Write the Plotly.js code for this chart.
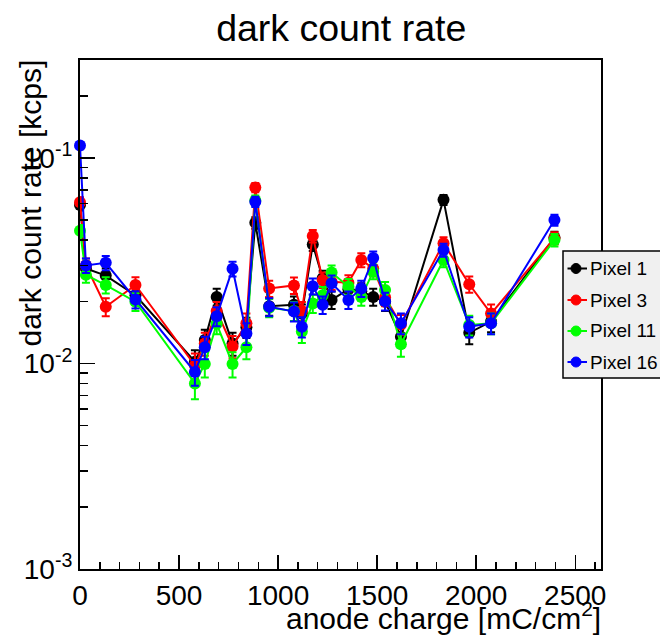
<!DOCTYPE html>
<html>
<head>
<meta charset="utf-8">
<script src="https://cdn.plot.ly/plotly-3.0.1.min.js"></script>
<style>html,body{margin:0;padding:0;background:#fff;}#chart{width:660px;height:635px;}</style>
</head>
<body>
<div id="chart"></div>
<script>
// anode charge [mC/cm^2]
const charge = [0, 30, 130, 280, 580, 630, 690, 770, 840, 885, 955, 1080, 1120, 1175, 1225, 1270, 1355, 1420, 1480, 1540, 1620, 1835, 1965, 2075, 2395];

// dark count rate [kcps]
const pixel1 = [0.059, 0.029, 0.0268, 0.0215, 0.0102, 0.0130, 0.0211, 0.0125, 0.0150, 0.0484, 0.0190, 0.0193, 0.0175, 0.0380, 0.0260, 0.0204, 0.0230, 0.0225, 0.0211, 0.0200, 0.0135, 0.0626, 0.0141, 0.0160, 0.0410];
const pixel3 = [0.061, 0.030, 0.0189, 0.0241, 0.0098, 0.0125, 0.0180, 0.0121, 0.0157, 0.0719, 0.0232, 0.0240, 0.0180, 0.0417, 0.0255, 0.0250, 0.0247, 0.0319, 0.0290, 0.0210, 0.0155, 0.0385, 0.0243, 0.0175, 0.0407];
const pixel11 = [0.0443, 0.027, 0.0241, 0.0200, 0.0080, 0.00995, 0.0156, 0.00995, 0.0120, 0.0622, 0.0187, 0.0180, 0.0143, 0.0196, 0.0215, 0.0277, 0.0237, 0.0211, 0.0280, 0.0228, 0.0124, 0.0319, 0.0154, 0.0157, 0.0399];
const pixel16 = [0.115, 0.030, 0.0309, 0.0205, 0.0091, 0.0120, 0.0170, 0.0289, 0.0140, 0.0613, 0.0189, 0.0179, 0.0151, 0.0238, 0.0193, 0.0246, 0.0204, 0.0232, 0.0326, 0.0201, 0.0157, 0.0357, 0.0151, 0.0157, 0.0499];

// errors [kcps]
const err1 = [0.0034, 0.0024, 0.0023, 0.0021, 0.0014, 0.0016, 0.0020, 0.0016, 0.0017, 0.0031, 0.0019, 0.0019, 0.0019, 0.0027, 0.0023, 0.0020, 0.0021, 0.0021, 0.0020, 0.0020, 0.0016, 0.0035, 0.0017, 0.0018, 0.0028];
const err3 = [0.0035, 0.0024, 0.0019, 0.0022, 0.0014, 0.0016, 0.0019, 0.0015, 0.0018, 0.0038, 0.0021, 0.0022, 0.0019, 0.0029, 0.0022, 0.0022, 0.0022, 0.0025, 0.0024, 0.0020, 0.0017, 0.0027, 0.0022, 0.0019, 0.0028];
const err11 = [0.0029, 0.0023, 0.0022, 0.0020, 0.0013, 0.0014, 0.0017, 0.0014, 0.0015, 0.0035, 0.0019, 0.0019, 0.0017, 0.0020, 0.0021, 0.0023, 0.0021, 0.0020, 0.0023, 0.0021, 0.0016, 0.0025, 0.0017, 0.0018, 0.0028];
const err16 = [0.0047, 0.0024, 0.0025, 0.0020, 0.0013, 0.0015, 0.0018, 0.0024, 0.0017, 0.0035, 0.0019, 0.0019, 0.0017, 0.0021, 0.0019, 0.0022, 0.0020, 0.0021, 0.0025, 0.0020, 0.0018, 0.0026, 0.0017, 0.0018, 0.0031];

const seriesNames = ['Pixel 1', 'Pixel 3', 'Pixel 11', 'Pixel 16'];
const seriesColors = ['#000000', '#ff0000', '#00ff00', '#0000ff'];

const yTickVals = [0.001, 0.01, 0.1];
const yTickText = ['10<sup>-3</sup>', '10<sup>-2</sup>', '10<sup>-1</sup>'];
const yMinorVals = [0.002,0.003,0.004,0.005,0.006,0.007,0.008,0.009,0.02,0.03,0.04,0.05,0.06,0.07,0.08,0.09,0.2,0.3];

const FONT = 'Liberation Sans, Arial, Helvetica, sans-serif';
const W = 660, H = 635, ML = 80, MR = 59, MT = 60, MB = 66;
const PW = W - ML - MR, PH = H - MT - MB;
const px = p => (p - ML) / PW;          // pixel x -> paper x
const py = q => (H - MB - q) / PH;      // pixel y -> paper y

const ys = [pixel1, pixel3, pixel11, pixel16];
const es = [err1, err3, err11, err16];

const traces = ys.map((y, i) => ({
  type: 'scatter',
  mode: 'lines+markers',
  name: seriesNames[i],
  x: charge,
  y: y,
  error_y: {type: 'data', array: es[i], visible: true, color: seriesColors[i], thickness: 2, width: 4},
  line: {color: seriesColors[i], width: 2},
  marker: {color: seriesColors[i], size: 12, symbol: 'circle'},
  cliponaxis: false,
  showlegend: false
}));

// hand-built legend box (ROOT TLegend look)
const legRows = [268.5, 300, 331, 362];
const shapes = [{type: 'rect', xref: 'paper', yref: 'paper', x0: px(563), x1: px(720), y0: py(378), y1: py(251),
                 fillcolor: '#f0f0f0', line: {color: '#000', width: 1.5}, layer: 'above'}];
const annotations = [
  {text: 'anode charge [mC/cm<sup>2</sup>]', xref: 'paper', yref: 'paper', x: 1, y: 0,
   xanchor: 'right', yanchor: 'middle', yshift: -47, xshift: 2, showarrow: false,
   font: {family: FONT, size: 30, color: '#000'}},
  {text: 'dark count rate [kcps]', xref: 'paper', yref: 'paper', x: 0, y: 1,
   xanchor: 'center', yanchor: 'top', xshift: -50, yshift: 2, textangle: -90, showarrow: false,
   font: {family: FONT, size: 30, color: '#000'}}
];
seriesNames.forEach((n, i) => {
  const r = legRows[i];
  shapes.push({type: 'line', xref: 'paper', yref: 'paper', x0: px(567.5), x1: px(587), y0: py(r), y1: py(r),
               line: {color: seriesColors[i], width: 2}, layer: 'above'});
  shapes.push({type: 'circle', xref: 'paper', yref: 'paper', x0: px(571), x1: px(581), y0: py(r + 5), y1: py(r - 5),
               fillcolor: seriesColors[i], line: {color: seriesColors[i], width: 1}, layer: 'above'});
  annotations.push({text: n, xref: 'paper', yref: 'paper', x: px(587.5), y: py(r), xanchor: 'left', yanchor: 'middle',
                    showarrow: false, font: {family: FONT, size: 19, color: '#000'}});
});

const layout = {
  width: W, height: H,
  paper_bgcolor: '#ffffff', plot_bgcolor: '#ffffff',
  margin: {l: ML, r: MR, t: MT, b: MB, autoexpand: false},
  font: {family: FONT, color: '#000', size: 28},
  title: {text: 'dark count rate', font: {family: FONT, size: 37.5, color: '#000'},
          x: 0.517, xanchor: 'center', xref: 'container', y: 1 - 28/635, yanchor: 'middle', yref: 'container'},
  showlegend: false,
  xaxis: {
    range: [0, 2630], showgrid: false, zeroline: false,
    showline: true, linecolor: '#000', linewidth: 2, mirror: true,
    ticks: 'inside', ticklen: 14, tickwidth: 1.5, tickcolor: '#000',
    dtick: 500, tick0: 0,
    minor: {dtick: 100, ticks: 'inside', ticklen: 7, tickwidth: 1.5, tickcolor: '#000', showgrid: false},
    tickfont: {family: FONT, size: 28, color: '#000'}
  },
  yaxis: {
    type: 'log', range: [-3, Math.log10(0.3)], showgrid: false, zeroline: false,
    showline: true, linecolor: '#000', linewidth: 2, mirror: true,
    ticks: 'inside', ticklen: 15, tickwidth: 1.5, tickcolor: '#000',
    tickmode: 'array', tickvals: yTickVals, ticktext: yTickText,
    minor: {tickmode: 'array', tickvals: yMinorVals, ticks: 'inside', ticklen: 8, tickwidth: 1.5, tickcolor: '#000', showgrid: false},
    tickfont: {family: FONT, size: 28, color: '#000'}
  },
  shapes: shapes,
  annotations: annotations
};

Plotly.newPlot('chart', traces, layout, {staticPlot: true, displayModeBar: false});
</script>
</body>
</html>
